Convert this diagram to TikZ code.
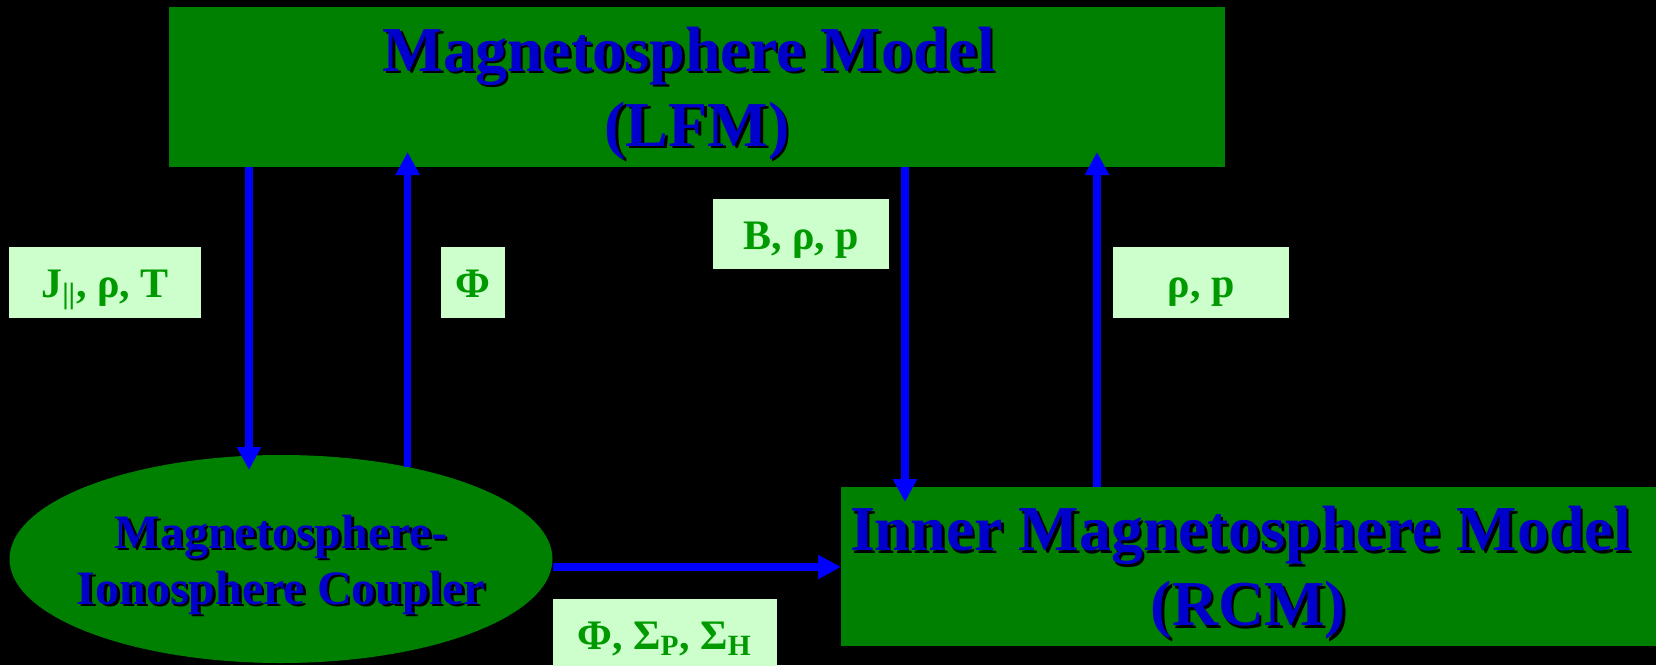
\documentclass[tikz,border=0pt]{standalone}
\usepackage{fontspec}
\setmainfont{Liberation Serif}
\usetikzlibrary{arrows.meta,shapes.geometric}
\definecolor{boxgreen}{RGB}{0,128,0}
\definecolor{titleblue}{RGB}{0,0,204}
\definecolor{flowblue}{RGB}{0,0,255}
\definecolor{tagfill}{RGB}{204,255,204}
\definecolor{tagtext}{RGB}{0,153,0}
\newcommand{\shadowed}[1]{\makebox[0pt][l]{\hspace{1.3pt}\raisebox{-1.3pt}{\color{black}#1}}#1}

\begin{document}
\begin{tikzpicture}[x=0.5pt, y=-0.5pt, every node/.style={align=center, outer sep=0pt, font=\bfseries},
  model/.style={rectangle, fill=boxgreen, text=titleblue, inner sep=0pt, font=\bfseries\fontsize{32}{37.5}\selectfont},
  coupler/.style={ellipse, fill=boxgreen, text=titleblue, inner xsep=-25pt, inner ysep=0pt, minimum width=271.5pt, minimum height=104pt, font=\bfseries\fontsize{24}{28}\selectfont},
  tag/.style={rectangle, fill=tagfill, text=tagtext, inner sep=0pt, minimum height=35.5pt, text height=19pt, text depth=4pt, font=\bfseries\fontsize{21}{25}\selectfont},
  flow/.style={flowblue, line width=3.7pt, -{Triangle[length=11.5pt, width=11.5pt]}}]
  % Background
  \useasboundingbox (0, 0) rectangle (1656, 665);
  \fill[black] (0, 0) rectangle (1656, 665);

  % Models
  \node[model, minimum width=528pt, minimum height=80pt] (lfm) at (697, 87) {\rule{0pt}{30pt}\shadowed{Magnetosphere Model}\hspace*{8pt}\\\shadowed{(LFM)}};
  \node[model, minimum width=407.5pt, minimum height=79.5pt] (rcm) at (1248.5, 566.5) {\rule{0pt}{30pt}\shadowed{Inner Magnetosphere Model}\hspace*{8pt}\\\shadowed{(RCM)}};
  \node[coupler] (mic) at (281, 559) {\rule{0pt}{23.5pt}\shadowed{Magnetosphere-}\\\shadowed{Ionosphere Coupler}};

  % Arrow ends
  \coordinate (d1) at (249, 470);
  \coordinate (u1) at (409, 152);
  \coordinate (d2) at (905, 502);
  \coordinate (u2) at (1097, 152);
  \coordinate (h1) at (552, 567);

  % Exchanges
  \draw[flow] (lfm.south -| d1) -- (d1);
  \draw[flow] (mic.36) -- (mic.36 |- u1);
  \draw[flow] (lfm.south -| d2) -- (d2);
  \draw[flow] (rcm.north -| u2) -- (u2);
  \draw[flow] (mic.east |- h1) -- (rcm.west |- h1);

  % Exchanged quantities
  \node[tag, minimum width=96pt] (jtag) at (105, 282.5) {J\textsubscript{||}, ρ, T};
  \node[tag, minimum width=32pt] (phitag) at (473, 282.5) {Φ};
  \node[tag, minimum width=88pt, minimum height=35pt] (btag) at (801, 234) {B, ρ, p};
  \node[tag, minimum width=88pt] (ptag) at (1201, 282.5) {ρ, p};
  \node[tag, minimum width=112pt] (sigtag) at (664.5, 634.5) {Φ, Σ\textsubscript{P}, Σ\textsubscript{H}};
\end{tikzpicture}
\end{document}
